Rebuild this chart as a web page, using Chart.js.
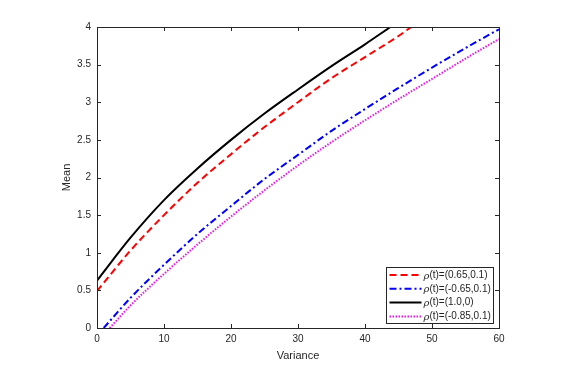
<!DOCTYPE html>
<html>
<head>
<meta charset="utf-8">
<script src="https://cdn.jsdelivr.net/npm/chart.js@4/dist/chart.umd.min.js"></script>
<style>
  html, body { margin: 0; padding: 0; background: #fff; }
  #wrap { width: 574px; height: 376px; }
</style>
</head>
<body>
<div id="wrap"><canvas id="frontier" width="574" height="376"></canvas></div>
<script>
// values
var labels = ['(0.65,0.1)', '(-0.65,0.1)', '(1.0,0)', '(-0.85,0.1)'];

var redX = [0, 5, 10, 15, 20, 25, 30, 35, 40, 45, 46.9];
var redY = [0.49, 1.03, 1.50, 1.93, 2.31, 2.67, 3.00, 3.32, 3.60, 3.88, 4.0];

var blueX = [1, 5, 10, 15, 20, 25, 30, 35, 40, 45, 50, 55, 60];
var blueY = [0, 0.40, 0.84, 1.25, 1.62, 1.98, 2.30, 2.62, 2.91, 3.19, 3.46, 3.72, 3.97];

var blackX = [0, 5, 10, 15, 20, 25, 30, 35, 40, 43.8];
var blackY = [0.63, 1.20, 1.70, 2.12, 2.50, 2.85, 3.17, 3.48, 3.77, 4.0];

var magentaX = [1.9, 5, 10, 15, 20, 25, 30, 35, 40, 45, 50, 55, 60];
var magentaY = [0, 0.30, 0.72, 1.11, 1.48, 1.83, 2.16, 2.47, 2.76, 3.04, 3.31, 3.58, 3.84];

var xTicks = [0, 10, 20, 30, 40, 50, 60];
var yTicks = [0, 0.5, 1, 1.5, 2, 2.5, 3, 3.5, 4];

var axisColor = '#262626';

function points(xs, ys) {
    var out = [];
    for (var i = 0; i < xs.length; i++) {
        out.push({x: xs[i], y: ys[i]});
    }
    return out;
}

function series(label, xs, ys, color, dash) {
    return {
        label: label,
        data: points(xs, ys),
        borderColor: color,
        backgroundColor: color,
        borderWidth: 2,
        borderDash: dash,
        pointRadius: 0,
        fill: false,
        cubicInterpolationMode: 'monotone'
    };
}

// box round the axes with inward ticks on all four sides
var boxPlugin = {
    id: 'box',
    afterDatasetsDraw: function(chart) {
        var ctx = chart.ctx;
        var a = chart.chartArea;
        var sx = chart.scales.x, sy = chart.scales.y;
        var tl = 4;
        ctx.save();
        ctx.strokeStyle = axisColor;
        ctx.lineWidth = 1;
        ctx.beginPath();
        xTicks.forEach(function(v) {
            var px = Math.round(sx.getPixelForValue(v)) + 0.5;
            ctx.moveTo(px, a.bottom); ctx.lineTo(px, a.bottom - tl);
            ctx.moveTo(px, a.top); ctx.lineTo(px, a.top + tl);
        });
        yTicks.forEach(function(v) {
            var py = Math.round(sy.getPixelForValue(v)) + 0.5;
            ctx.moveTo(a.left, py); ctx.lineTo(a.left + tl, py);
            ctx.moveTo(a.right, py); ctx.lineTo(a.right - tl, py);
        });
        ctx.stroke();
        ctx.strokeRect(Math.round(a.left) + 0.5, Math.round(a.top) + 0.5,
            Math.round(a.right - a.left), Math.round(a.bottom - a.top));
        ctx.restore();
    }
};

// legend box inside the lower right corner
var legendPlugin = {
    id: 'innerLegend',
    afterDraw: function(chart) {
        var ctx = chart.ctx;
        var a = chart.chartArea;
        var sets = chart.data.datasets;
        var rowH = 13.8;
        var w = 107, h = 56;
        var x0 = Math.round(a.right - 6 - w) + 0.5;
        var y0 = Math.round(a.bottom - 5 - h) + 0.5;
        ctx.save();
        ctx.fillStyle = '#fff';
        ctx.fillRect(x0, y0, w, h);
        ctx.strokeStyle = axisColor;
        ctx.lineWidth = 1;
        ctx.strokeRect(x0, y0, w, h);
        ctx.textBaseline = 'middle';
        for (var i = 0; i < sets.length; i++) {
            var ds = sets[i];
            var y = y0 + 7.5 + i * rowH;
            ctx.beginPath();
            ctx.setLineDash(ds.borderDash || []);
            ctx.strokeStyle = ds.borderColor;
            ctx.lineWidth = 2;
            ctx.moveTo(x0 + 3, y);
            ctx.lineTo(x0 + 35, y);
            ctx.stroke();
            ctx.setLineDash([]);
            ctx.fillStyle = axisColor;
            ctx.font = 'italic 10px "DejaVu Serif"';
            ctx.fillText('\u03c1', x0 + 37, y + 1);
            var rw = ctx.measureText('\u03c1').width;
            ctx.font = '10px "Liberation Sans", Arial, sans-serif';
            ctx.fillText('(t)=' + ds.label, x0 + 37 + rw, y);
        }
        ctx.restore();
    }
};

var tickFont = {family: '"Liberation Sans", Arial, sans-serif', size: 10};
var titleFont = {family: '"Liberation Sans", Arial, sans-serif', size: 11};

new Chart(document.getElementById('frontier').getContext('2d'), {
    type: 'line',
    data: {
        datasets: [
            series(labels[0], redX, redY, '#ff0000', [7, 4]),
            series(labels[1], blueX, blueY, '#0000ff', [7, 3, 2, 3]),
            series(labels[2], blackX, blackY, '#000000', []),
            series(labels[3], magentaX, magentaY, '#e619e6', [1.5, 1.5])
        ]
    },
    options: {
        responsive: false,
        animation: false,
        layout: {padding: {left: 55, top: 27, right: 75, bottom: 0}},
        plugins: {
            legend: {display: false},
            tooltip: {enabled: false}
        },
        scales: {
            x: {
                type: 'linear',
                min: 0, max: 60,
                grid: {display: false, drawTicks: false},
                border: {display: false},
                ticks: {stepSize: 10, color: axisColor, font: tickFont, padding: 5, maxRotation: 0,
                    callback: function(v) { return String(v); }},
                title: {display: true, text: 'Variance', color: axisColor, font: titleFont, padding: {top: 2, bottom: 13}},
                afterFit: function(s) { s.height = 48; }
            },
            y: {
                type: 'linear',
                min: 0, max: 4,
                grid: {display: false, drawTicks: false},
                border: {display: false},
                ticks: {stepSize: 0.5, color: axisColor, font: tickFont, padding: 6,
                    callback: function(v) { return String(v); }},
                title: {display: true, text: 'Mean', color: axisColor, font: titleFont, padding: {top: 5, bottom: 0}},
                afterFit: function(s) { s.width = 42; }
            }
        }
    },
    plugins: [boxPlugin, legendPlugin]
});
</script>
</body>
</html>
